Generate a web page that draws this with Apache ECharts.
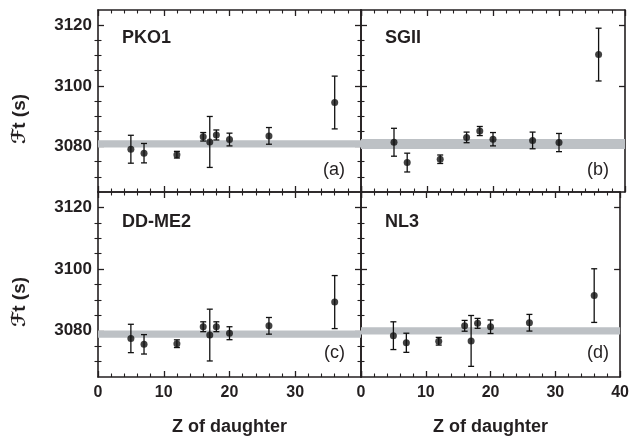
<!DOCTYPE html>
<html><head><meta charset="utf-8">
<script src="https://cdn.jsdelivr.net/npm/echarts@6/dist/echarts.min.js"></script>
<style>html,body{margin:0;padding:0;background:#fff}#c{width:632px;height:439px}</style>
</head><body><div id="c"></div>
<script>
// ---- data ----
const panelNames = ['PKO1', 'SGII', 'DD-ME2', 'NL3'];
const panelTags = ['(a)', '(b)', '(c)', '(d)'];
const xTitle = 'Z of daughter';
const yTitle = 'ℱt (s)';
const xMin = 0, xMax = 40, xInterval = 10;
const xLabelsLeft = [0, 10, 20, 30];
const xLabelsRight = [0, 10, 20, 30, 40];
const yMin = 3065, yMax = 3125;
const yMajorTicks = [3080, 3100, 3120];
const yMinorTicks = [3070, 3075, 3085, 3090, 3095, 3105, 3110, 3115];

const zPKO1 = [5, 7, 12, 16, 17, 18, 20, 26, 36];
const ftPKO1 = [3079.1, 3077.8, 3077.3, 3083.2, 3081.5, 3083.8, 3082.3, 3083.5, 3094.5];
const errPKO1 = [4.6, 3.2, 1.1, 1.4, 8.4, 1.65, 2.1, 2.75, 8.7];
const bandPKO1 = [3079.7, 3082.1];

const zSGII = [5, 7, 12, 16, 18, 20, 26, 30, 36];
const ftSGII = [3081.4, 3074.7, 3075.8, 3083.0, 3085.1, 3082.4, 3082.0, 3081.3, 3110.3];
const errSGII = [4.6, 3.1, 1.4, 1.75, 1.5, 2.2, 2.75, 3.0, 8.7];
const bandSGII = [3079.2, 3082.5];

const zDDME2 = [5, 7, 12, 16, 17, 18, 20, 26, 36];
const ftDDME2 = [3077.5, 3075.6, 3075.8, 3081.3, 3078.6, 3081.3, 3079.2, 3081.6, 3089.3];
const errDDME2 = [4.6, 3.15, 1.25, 1.6, 8.4, 1.6, 2.1, 2.7, 8.6];
const bandDDME2 = [3077.7, 3080.1];

const zNL3 = [5, 7, 12, 16, 17, 18, 20, 26, 36];
const ftNL3 = [3078.4, 3076.1, 3076.6, 3081.6, 3076.7, 3082.4, 3081.3, 3082.6, 3091.4];
const errNL3 = [4.5, 3.1, 1.25, 1.75, 8.25, 1.6, 2.2, 2.7, 8.7];
const bandNL3 = [3078.8, 3081.1];

// ---- build ----
const panels = [
  {z: zPKO1, v: ftPKO1, e: errPKO1, band: bandPKO1},
  {z: zSGII, v: ftSGII, e: errSGII, band: bandSGII},
  {z: zDDME2, v: ftDDME2, e: errDDME2, band: bandDDME2},
  {z: zNL3, v: ftNL3, e: errNL3, band: bandNL3}
];
const ink = '#231f20';
const dot = '#111111';
const bandColor = '#bdc1c5';
const FONT = '"Liberation Sans", Arial, Helvetica, sans-serif';
const grids = [
  {left: 98, top: 10, width: 263, height: 182},
  {left: 361, top: 10, width: 264, height: 182},
  {left: 98, top: 192, width: 263, height: 185},
  {left: 361, top: 192, width: 264, height: 185}
];

const xAxes = [], yAxes = [], series = [], graphics = [];
panels.forEach((p, i) => {
  const bottomRow = i >= 2, leftCol = i % 2 === 0;
  ['bottom', 'top'].forEach(pos => {
    const showLab = bottomRow && pos === 'bottom';
    xAxes.push({
      gridIndex: i, type: 'value', min: xMin, max: xMax, interval: xInterval, position: pos,
      axisLine: {show: true, onZero: false, lineStyle: {color: ink, width: 1.6}},
      axisTick: {show: true, inside: true, length: 6, lineStyle: {color: ink, width: 1.3}},
      minorTick: {show: true, splitNumber: 5, length: 3.5, lineStyle: {color: ink, width: 1.1}},
      splitLine: {show: false}, minorSplitLine: {show: false},
      axisLabel: {show: showLab, margin: 8, color: ink, fontFamily: FONT,
        fontWeight: 'bold', fontSize: 16, hideOverlap: false,
        customValues: leftCol ? xLabelsLeft : xLabelsRight, formatter: v => String(v)},
      name: showLab ? xTitle : '',
      nameLocation: 'middle', nameGap: 41,
      nameTextStyle: {color: ink, fontFamily: FONT, fontWeight: 'bold', fontSize: 18}
    });
  });
  ['left', 'right'].forEach(pos => {
    yAxes.push({
      gridIndex: i, type: 'value', min: yMin, max: yMax, position: pos,
      axisLine: {show: true, onZero: false, lineStyle: {color: ink, width: 1.6}},
      axisTick: {show: true, inside: true, length: 6, customValues: yMajorTicks, lineStyle: {color: ink, width: 1.3}},
      splitLine: {show: false},
      axisLabel: {show: leftCol && pos === 'left', customValues: yMajorTicks, margin: 6, color: ink,
        fontFamily: FONT, fontWeight: 'bold', fontSize: 17, formatter: v => String(v)}
    });
    yAxes.push({
      gridIndex: i, type: 'value', min: yMin, max: yMax, position: pos,
      axisLine: {show: false},
      axisTick: {show: true, inside: true, length: 3.5, customValues: yMinorTicks, lineStyle: {color: ink, width: 1.1}},
      splitLine: {show: false},
      axisLabel: {show: false}
    });
  });
  const xi = i * 2, yi = i * 4;
  series.push({
    type: 'custom', xAxisIndex: xi, yAxisIndex: yi, silent: true, z: 1,
    data: [[p.band[0], p.band[1]]],
    encode: {y: [0, 1]},
    renderItem: (params, api) => {
      const a = api.coord([xMin, api.value(1)]);
      const b = api.coord([xMax, api.value(0)]);
      return {type: 'rect', shape: {x: a[0], y: a[1], width: b[0] - a[0], height: b[1] - a[1]},
        style: {fill: bandColor}};
    }
  });
  series.push({
    type: 'custom', xAxisIndex: xi, yAxisIndex: yi, silent: true, z: 2,
    data: p.z.map((zz, k) => [zz, p.v[k], p.e[k]]),
    encode: {x: 0, y: 1},
    renderItem: (params, api) => {
      const x = api.value(0), v = api.value(1), e = api.value(2);
      const t = api.coord([x, v + e]), b = api.coord([x, v - e]);
      const cw = 3;
      const st = {stroke: dot, lineWidth: 1.3};
      return {type: 'group', children: [
        {type: 'line', shape: {x1: t[0], y1: t[1], x2: b[0], y2: b[1]}, style: st},
        {type: 'line', shape: {x1: t[0] - cw, y1: t[1], x2: t[0] + cw, y2: t[1]}, style: st},
        {type: 'line', shape: {x1: b[0] - cw, y1: b[1], x2: b[0] + cw, y2: b[1]}, style: st}
      ]};
    }
  });
  series.push({
    type: 'scatter', xAxisIndex: xi, yAxisIndex: yi, z: 3, silent: true,
    symbol: 'circle', symbolSize: 7, itemStyle: {color: dot},
    data: p.z.map((zz, k) => [zz, p.v[k]])
  });
  const g = grids[i];
  graphics.push({type: 'text', x: g.left + 24, y: g.top + (bottomRow ? 30 : 28),
    style: {text: panelNames[i], font: 'bold 18px ' + FONT, fill: ink, textAlign: 'left', textVerticalAlign: 'middle'}});
  graphics.push({type: 'text', x: g.left + g.width - 16, y: g.top + (bottomRow ? 161 : 160),
    style: {text: panelTags[i], font: '18px ' + FONT, fill: ink, textAlign: 'right', textVerticalAlign: 'middle'}});
  if (leftCol) {
    graphics.push({type: 'text', x: 20, y: g.top + (bottomRow ? 110 : 109), rotation: Math.PI / 2,
      style: {text: yTitle, font: 'bold 19px ' + FONT + ', "DejaVu Sans"', fill: ink, textAlign: 'center', textVerticalAlign: 'middle'}});
  }
});

const chart = echarts.init(document.getElementById('c'), null, {renderer: 'canvas'});
chart.setOption({
  animation: false,
  backgroundColor: '#fff',
  grid: grids,
  xAxis: xAxes,
  yAxis: yAxes,
  series: series,
  graphic: graphics
});
</script></body></html>
